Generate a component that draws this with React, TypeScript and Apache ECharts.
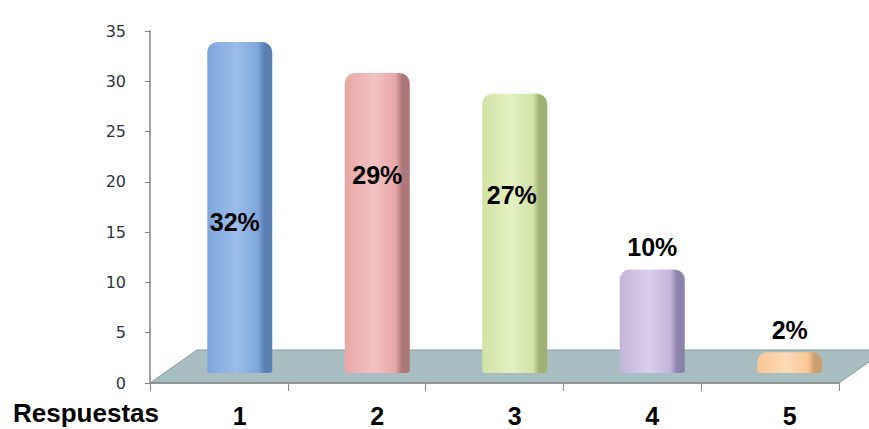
import React, { useEffect, useRef } from "react";
import * as echarts from "echarts";

const categories: string[] = ["1", "2", "3", "4", "5"];
const values: number[] = [32, 29, 27, 10, 2];
const percentLabels: string[] = ["32%", "29%", "27%", "10%", "2%"];
const yTicks: number[] = [0, 5, 10, 15, 20, 25, 30, 35];
const axisTitle = "Respuestas";

const baseColors = ["#7fa6dc", "#e8a8a7", "#d2e3a6", "#c2b5da", "#fbc794"];
const lightColors = ["#9cbdea", "#f2c2c1", "#e4f0c2", "#d8cfea", "#fddab6"];
const darkColors = ["#5a7fb2", "#ad7877", "#a0b174", "#8d82aa", "#cc9f6e"];

// per-bar label placement (styling)
const labelPlacement = [
  { position: "inside", offset: [-5, 14] },
  { position: "inside", offset: [0, -48] },
  { position: "inside", offset: [-3, -38] },
  { position: "top", offset: [0, 0], distance: 10 },
  { position: "top", offset: [0, 0], distance: 10 },
];

export default function App() {
  const ref = useRef<HTMLDivElement>(null);
  useEffect(() => {
    if (!ref.current) return;
    const chart = echarts.init(ref.current, null, { renderer: "svg" });
    const barData = values.map((v, i) => ({
      value: v,
      itemStyle: {
        color: new echarts.graphic.LinearGradient(0, 0, 1, 0, [
          { offset: 0, color: baseColors[i] },
          { offset: 0.45, color: lightColors[i] },
          { offset: 0.78, color: baseColors[i] },
          { offset: 0.88, color: darkColors[i] },
          { offset: 1, color: darkColors[i] },
        ]),
        borderRadius: [10, 10, 3, 3],
      },
      label: {
        show: true,
        formatter: percentLabels[i],
        ...labelPlacement[i],
      },
    }));
    chart.setOption({
      animation: false,
      backgroundColor: "#ffffff",
      title: {
        text: axisTitle,
        left: 13,
        top: 400,
        padding: 0,
        textStyle: {
          fontFamily: "Liberation Sans, Arial, sans-serif",
          fontSize: 26,
          fontWeight: "bold",
          color: "#000",
        },
      },
      graphic: [
        {
          type: "polygon",
          z: 0,
          shape: {
            points: [
              [150, 383],
              [839, 383],
              [886, 350],
              [197, 350],
            ],
          },
          style: { fill: "#a9bec0", stroke: "#8c9c9e", lineWidth: 1 },
        },
      ],
      grid: [
        { left: 150, right: 30, top: 31, bottom: 46, outerBoundsMode: "none" },
        { left: 171, right: 10.5, top: 11, bottom: 56, outerBoundsMode: "none" },
      ],
      xAxis: [
        {
          type: "category",
          gridIndex: 0,
          data: categories,
          boundaryGap: true,
          axisLine: { show: true, lineStyle: { color: "#868686", width: 1.5 } },
          axisTick: { show: true, length: 8, lineStyle: { color: "#868686" } },
          axisLabel: { show: false },
          z: 3,
        },
        {
          type: "category",
          gridIndex: 1,
          data: categories,
          axisLine: { show: false },
          axisTick: { show: false },
          axisLabel: {
            show: true,
            margin: 30,
            fontFamily: "Liberation Sans, Arial, sans-serif",
            fontSize: 25,
            fontWeight: "bold",
            color: "#000",
          },
        },
      ],
      yAxis: [
        {
          type: "value",
          gridIndex: 0,
          min: 0,
          max: yTicks[yTicks.length - 1],
          interval: 5,
          axisLine: { show: true, lineStyle: { color: "#868686", width: 1.5 } },
          axisTick: { show: true, length: 5, lineStyle: { color: "#868686" } },
          splitLine: { show: false },
          axisLabel: {
            margin: 24,
            fontFamily: "DejaVu Sans, Verdana, sans-serif",
            fontSize: 16,
            color: "#2f3440",
          },
        },
        {
          type: "value",
          gridIndex: 1,
          min: 0,
          max: yTicks[yTicks.length - 1],
          interval: 5,
          show: false,
        },
      ],
      series: [
        {
          type: "bar",
          xAxisIndex: 1,
          yAxisIndex: 1,
          barWidth: 65,
          z: 4,
          data: barData,
          label: {
            show: true,
            fontFamily: "Liberation Sans, Arial, sans-serif",
            fontSize: 25,
            fontWeight: "bold",
            color: "#000",
          },
        },
      ],
    });
    return () => chart.dispose();
  }, []);
  return (
    <div
      ref={ref}
      style={{ position: "fixed", left: 0, top: 0, width: 869, height: 429 }}
    />
  );
}
